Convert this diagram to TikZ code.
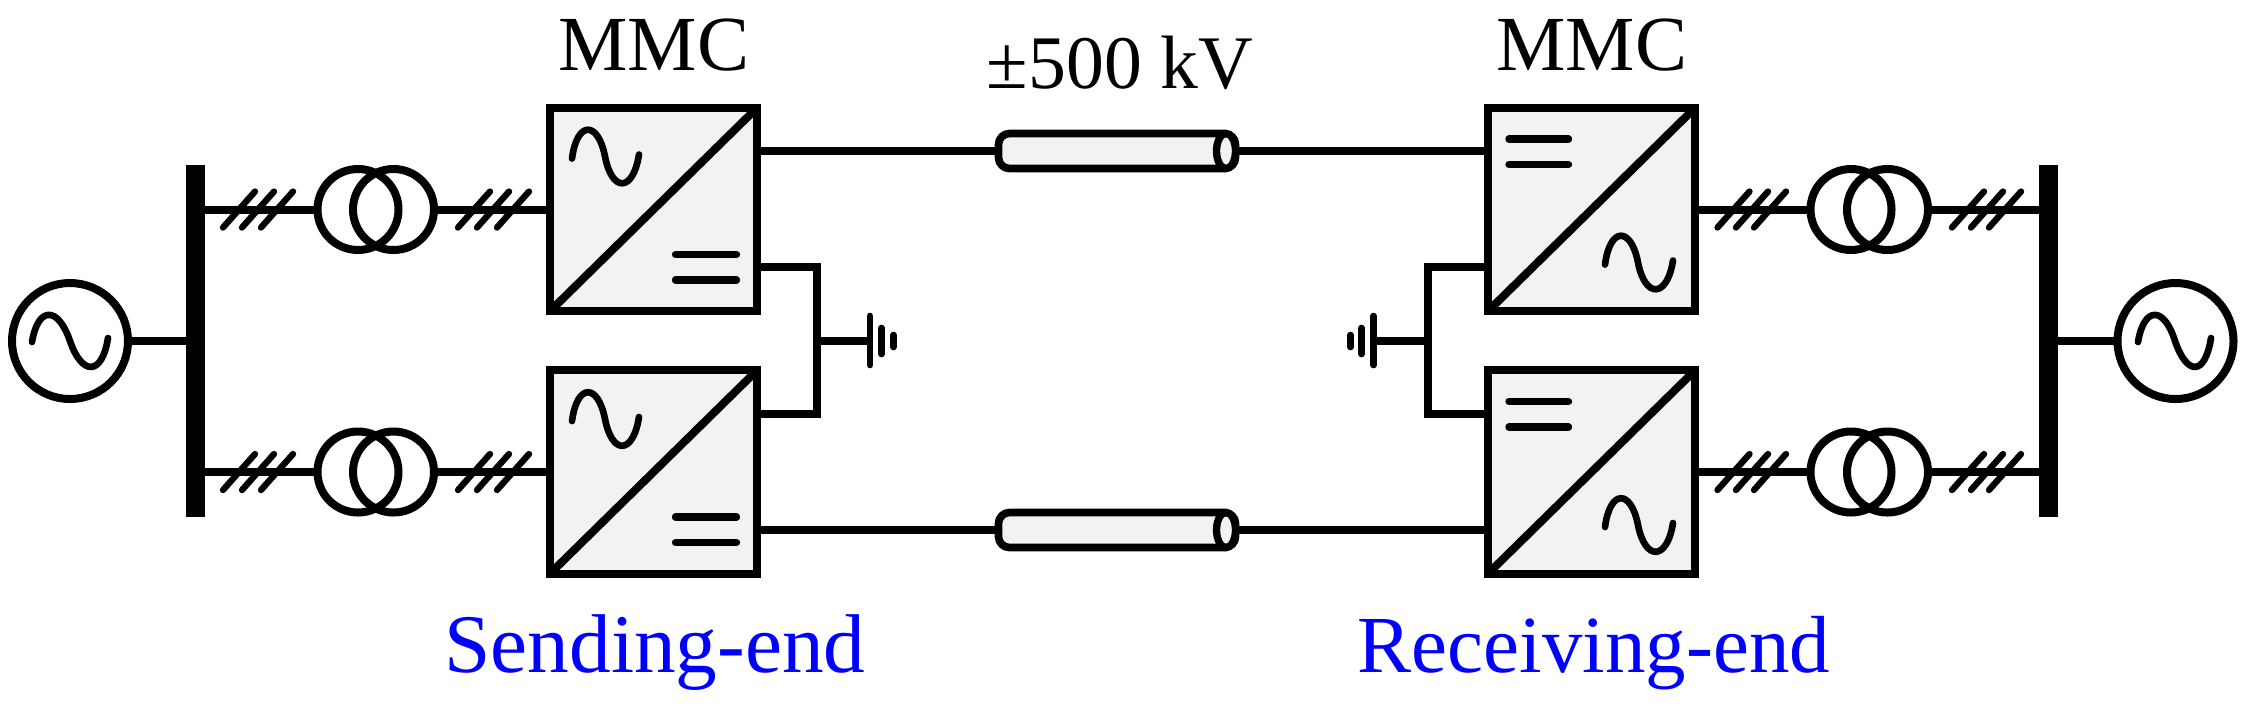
\documentclass[tikz,border=0pt]{standalone}
\usepackage{fontspec}
\setmainfont{Liberation Serif}
\usetikzlibrary{shapes.geometric}
\definecolor{convgray}{RGB}{242,242,242}
\tikzset{
    wire/.style={line width=2.4pt},
    conv/.style={draw, line width=2.4pt, fill=convgray, minimum width=62.1pt, minimum height=61pt, outer sep=0pt},
    trafo/.style={circle, draw, line width=2.4pt, minimum size=24.3pt, outer sep=0pt, inner sep=0pt},
    gen/.style={circle, draw, line width=2.4pt, minimum size=34.8pt, outer sep=0pt, inner sep=0pt},
    busbar/.style={fill=black, minimum width=5.7pt, minimum height=105.6pt, outer sep=0pt, inner sep=0pt},
    cablebody/.style={draw, line width=2.3pt, rounded corners=3.3pt, fill=convgray, minimum width=71.1pt, minimum height=10.5pt,
        outer sep=0pt, inner sep=0pt},
    cableend/.style={ellipse, draw, line width=2.2pt, fill=convgray, minimum width=5.7pt, minimum height=10.5pt,
        outer sep=0pt, inner sep=0pt},
    textlab/.style={font=\fontsize{23.4pt}{25pt}\selectfont, inner sep=0pt, anchor=base},
    bluelab/.style={textlab, text=blue, font=\fontsize{25pt}{27pt}\selectfont},
    sine/.style={line width=2pt, line cap=round},
    dcbar/.style={line width=2.2pt, line cap=round},
    hash/.style={line width=1.9pt, line cap=round},
    gnd/.style={line width=2pt, line cap=round}
}
\begin{document}
\begin{tikzpicture}[x=0.3pt, y=-0.3pt]
    \useasboundingbox (0,0) rectangle (2255,710);

    % the generators and the bus bars
    \node[gen] (genl) at (70,341) {};
    \node[gen] (genr) at (2175.5,341) {};
    \node[busbar] (busl) at (195.5,341) {};
    \node[busbar] (busr) at (2048.5,341) {};
    \draw[wire] (genl) -- (busl.east |- genl);
    \draw[wire] (genr) -- (busr.west |- genr);
    \draw[sine] (32,342) .. controls (38,306) and (58,306) .. (70,341) .. controls (82,376) and (102,376) .. (108,338);
    \draw[sine] (2138,342) .. controls (2144,306) and (2164,306) .. (2175,341) .. controls (2187,376) and (2205,376) .. (2211,338);

    % the converters
    \node[conv] (cs1) at (653.5,209.5) {};
    \node[conv] (cs2) at (653.5,472) {};
    \node[conv] (cr1) at (1591.5,209.5) {};
    \node[conv] (cr2) at (1591.5,472) {};

    % the transformers
    \foreach \name/\ya in {1/209.5, 2/472} {
        \node[trafo] (tla\name) at (358,\ya) {};
        \node[trafo] (tlb\name) at (393.5,\ya) {};
        \node[trafo] (tra\name) at (1851,\ya) {};
        \node[trafo] (trb\name) at (1887.5,\ya) {};
        \draw[wire] (tla\name.west) -- (busl.east |- tla\name);
        \draw[wire] (tlb\name.east) -- (cs\name.west |- tlb\name);
        \draw[wire] (tra\name.west) -- (cr\name.east |- tra\name);
        \draw[wire] (trb\name.east) -- (busr.west |- trb\name);
        % the slashes on the wires
        \foreach \xa in {220,239,258,455,474,494,1714.5,1733,1751,1949,1968,1986}
            \draw[hash] (\xa+3,\ya+18) -- (\xa+35,\ya-18);
    }

    % the insides of the converters
    \foreach \name/\ya in {cs1/209.5, cs2/472} {
        \draw[wire] (\name.south west) -- (\name.north east);
        \draw[sine] (572,\ya-51) .. controls (577,\ya-89) and (598,\ya-89) .. (605,\ya-53) .. controls (612,\ya-17) and (633,\ya-17) .. (639,\ya-55);
        \draw[dcbar] (675.5,\ya+45) -- (736.5,\ya+45);
        \draw[dcbar] (675.5,\ya+70.5) -- (736.5,\ya+70.5);
    }
    \foreach \name/\ya in {cr1/209.5, cr2/472} {
        \draw[wire] (\name.south west) -- (\name.north east);
        \draw[sine] (1605,\ya+55) .. controls (1610,\ya+17) and (1631,\ya+17) .. (1638,\ya+53) .. controls (1645,\ya+89) and (1667,\ya+89) .. (1673,\ya+51);
        \draw[dcbar] (1509,\ya-70.5) -- (1568.5,\ya-70.5);
        \draw[dcbar] (1509,\ya-45) -- (1568.5,\ya-45);
    }

    % the cables
    \node[cablebody] (cab1) at (1117,151) {};
    \node[cablebody] (cab2) at (1117,530) {};
    \node[cableend] (end1) at (1226,151) {};
    \node[cableend] (end2) at (1226,530) {};
    \draw[wire] (cab1.west) -- (cs1.east |- cab1);
    \draw[wire] (end1.east) -- (cr1.west |- end1);
    \draw[wire] (cab2.west) -- (cs2.east |- cab2);
    \draw[wire] (end2.east) -- (cr2.west |- end2);

    % the neutral points and the earthing
    \coordinate (ns1) at (816.5,267);
    \coordinate (ns2) at (816.5,413.5);
    \coordinate (nsg) at (816.5,341);
    \coordinate (gs1) at (870,341);
    \coordinate (nr1) at (1428,267);
    \coordinate (nr2) at (1428,413.5);
    \coordinate (nrg) at (1428,341);
    \coordinate (gr1) at (1373.5,341);
    \draw[wire, line join=miter] (cs1.east |- ns1) -- (ns1) -- (ns2) -- (cs2.east |- ns2);
    \draw[wire, line join=miter] (cr1.west |- nr1) -- (nr1) -- (nr2) -- (cr2.west |- nr2);
    \draw[wire] (nsg) -- (gs1);
    \draw[wire] (nrg) -- (gr1);
    \draw[gnd] (870,316) -- (870,365);
    \draw[gnd] (881.5,328) -- (881.5,354);
    \draw[gnd] (893.5,335) -- (893.5,347);
    \draw[gnd] (1373.5,316) -- (1373.5,365);
    \draw[gnd] (1361.5,328) -- (1361.5,354);
    \draw[gnd] (1350.5,335) -- (1350.5,347);

    % the texts
    \node[textlab] (mmcs) at (654,70) {MMC};
    \node[textlab] (mmcr) at (1592,70) {MMC};
    \node[textlab, font=\fontsize{22.7pt}{25pt}\selectfont] (volt) at (1120,88) {±500 kV};
    \node[bluelab] (send) at (655,672) {Sending-end};
    \node[bluelab, font=\fontsize{24.3pt}{27pt}\selectfont] (recv) at (1594,672) {Receiving-end};
\end{tikzpicture}
\end{document}
